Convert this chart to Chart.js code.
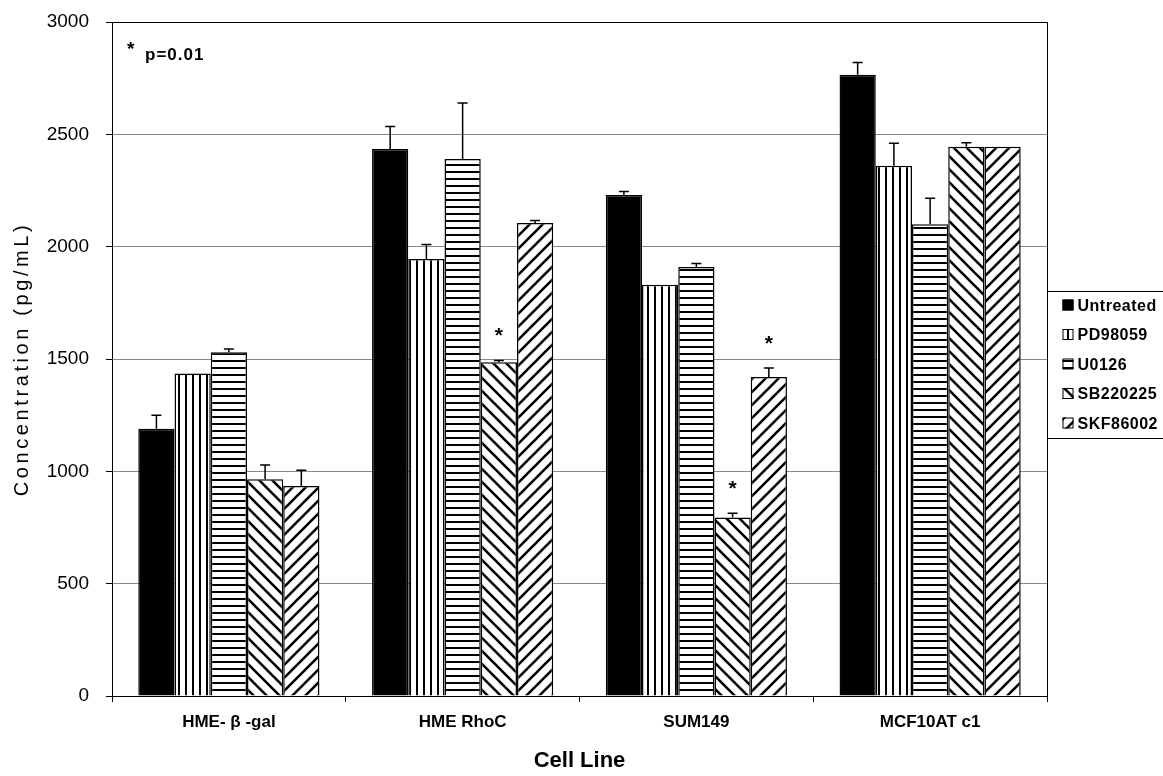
<!DOCTYPE html>
<html>
<head>
<meta charset="utf-8">
<script src="https://cdn.jsdelivr.net/npm/chart.js@4.4.1/dist/chart.umd.min.js"></script>
<style>
    html, body { margin: 0; padding: 0; background: #fff; }
    #wrap { width: 1163px; height: 776px; }
</style>
</head>
<body>
<div id="wrap"><canvas id="barChart" width="1163" height="776"></canvas></div>
<script>
// data
const cellLines = ["HME- \u03B2 -gal", "HME RhoC", "SUM149", "MCF10AT c1"];
const seriesNames = ["Untreated", "PD98059", "U0126", "SB220225", "SKF86002"];

const untreated = [1190, 2435, 2230, 2765];
const untreatedErr = [60, 100, 15, 55];
const pd98059 = [1435, 1945, 1830, 2360];
const pd98059Err = [0, 65, 0, 100];
const u0126 = [1530, 2390, 1910, 2100];
const u0126Err = [15, 250, 15, 115];
const sb220225 = [965, 1485, 795, 2445];
const sb220225Err = [63, 8, 18, 18];
const skf86002 = [935, 2105, 1420, 2445];
const skf86002Err = [70, 12, 40, 0];

// [series index, category index] marked with *
const significant = [[3, 1], [3, 2], [4, 2]];

const yTicks = [0, 500, 1000, 1500, 2000, 2500, 3000];

let ChartCells = function () {
    const FONT = "'Liberation Sans', Arial, sans-serif";
    const NARROW = "'Liberation Sans Narrow', 'Liberation Sans', Arial, sans-serif";

    let makePattern = function (kind) {
        const c = document.createElement('canvas');
        const g = c.getContext('2d');
        if (kind === 'solid') return '#000';
        if (kind === 'vert') {
            c.width = 7; c.height = 7;
            g.fillStyle = '#fff'; g.fillRect(0, 0, 7, 7);
            g.fillStyle = '#000'; g.fillRect(3, 0, 2, 7);
        } else if (kind === 'horiz') {
            c.width = 7; c.height = 7;
            g.fillStyle = '#fff'; g.fillRect(0, 0, 7, 7);
            g.fillStyle = '#000'; g.fillRect(0, 3, 7, 2);
        } else {
            const s = 13;
            c.width = s; c.height = s;
            g.fillStyle = '#fff'; g.fillRect(0, 0, s, s);
            g.strokeStyle = '#000'; g.lineWidth = 2.6;
            g.beginPath();
            if (kind === 'back') {
                g.moveTo(-2, -2); g.lineTo(s + 2, s + 2);
                g.moveTo(-2, s - 2); g.lineTo(2, s + 2);
                g.moveTo(s - 2, -2); g.lineTo(s + 2, 2);
            } else {
                g.moveTo(-2, s + 2); g.lineTo(s + 2, -2);
                g.moveTo(-2, 2); g.lineTo(2, -2);
                g.moveTo(s - 2, s + 2); g.lineTo(s + 2, s - 2);
            }
            g.stroke();
        }
        return g.createPattern(c, 'repeat');
    };

    let errorBars = {
        id: 'errorBars',
        afterDatasetsDraw(chart) {
            const ctx = chart.ctx;
            const y = chart.scales.y;
            ctx.save();
            ctx.strokeStyle = '#000';
            ctx.lineWidth = 1.5;
            chart.data.datasets.forEach((ds, i) => {
                chart.getDatasetMeta(i).data.forEach((bar, j) => {
                    const err = ds.errors[j];
                    if (!err) return;
                    const top = y.getPixelForValue(ds.data[j] + err);
                    ctx.beginPath();
                    ctx.moveTo(bar.x, bar.y);
                    ctx.lineTo(bar.x, top);
                    ctx.moveTo(bar.x - 5, top);
                    ctx.lineTo(bar.x + 5, top);
                    ctx.stroke();
                });
            });
            // significance stars
            ctx.fillStyle = '#000';
            ctx.font = 'bold 21px ' + FONT;
            ctx.textAlign = 'center';
            ctx.textBaseline = 'middle';
            significant.forEach(([i, j]) => {
                const ds = chart.data.datasets[i];
                const bar = chart.getDatasetMeta(i).data[j];
                const top = y.getPixelForValue(ds.data[j] + ds.errors[j]);
                ctx.fillText('*', bar.x, top - 24);
            });
            ctx.restore();
        }
    };

    let frameAndLegend = {
        id: 'frameAndLegend',
        afterDraw(chart) {
            const ctx = chart.ctx;
            const area = chart.chartArea;
            ctx.save();
            ctx.strokeStyle = '#000';
            ctx.lineWidth = 1;
            ctx.beginPath();
            ctx.moveTo(area.right + 0.5, area.top);
            ctx.lineTo(area.right + 0.5, area.bottom);
            ctx.stroke();

            // y axis title, drawn here to get the spaced lettering
            ctx.fillStyle = '#000';
            ctx.save();
            ctx.translate(22, (area.top + area.bottom) / 2);
            ctx.rotate(-Math.PI / 2);
            ctx.textAlign = 'center';
            ctx.textBaseline = 'middle';
            ctx.font = '20px ' + FONT;
            ctx.letterSpacing = '3.6px';
            ctx.fillText('Concentration (pg/mL)', 0, 0);
            ctx.restore();

            // p value note
            ctx.textBaseline = 'middle';
            ctx.textAlign = 'left';
            ctx.font = 'bold 19px ' + FONT;
            ctx.fillText('*', area.left + 15, area.top + 28);
            ctx.font = 'bold 17px ' + FONT;
            ctx.letterSpacing = '1px';
            ctx.fillText('p=0.01', area.left + 33, area.top + 33);

            // legend box
            const lx = area.right + 0.5;
            const ly = area.top + 269.5;
            ctx.strokeRect(lx, ly, 140, 147);
            ctx.font = 'bold 16px ' + FONT;
            ctx.letterSpacing = '0.5px';
            chart.data.datasets.forEach((ds, i) => {
                const cy = ly + 14 + i * 29.5;
                ctx.fillStyle = ds.backgroundColor;
                ctx.fillRect(lx + 15, cy - 6, 11, 11);
                ctx.strokeRect(lx + 15.5, cy - 5.5, 10, 10);
                ctx.fillStyle = '#000';
                ctx.fillText(ds.label, lx + 30, cy + 1);
            });
            ctx.restore();
        }
    };

    let _ChartCells = function () {
        const values = [untreated, pd98059, u0126, sb220225, skf86002];
        const errors = [untreatedErr, pd98059Err, u0126Err, sb220225Err, skf86002Err];
        const fills = ['solid', 'vert', 'horiz', 'back', 'fwd'];

        const barData = {
            labels: cellLines,
            datasets: seriesNames.map((name, i) => ({
                label: name,
                data: values[i],
                errors: errors[i],
                backgroundColor: makePattern(fills[i]),
                borderColor: '#000',
                borderWidth: 1.5,
                barPercentage: 1,
                categoryPercentage: 0.775
            }))
        };

        const barOptions = {
            responsive: false,
            animation: false,
            devicePixelRatio: 1,
            layout: { padding: { top: 22, right: 116, bottom: 0, left: 0 } },
            plugins: { legend: { display: false }, tooltip: { enabled: false } },
            scales: {
                x: {
                    afterFit: (scale) => { scale.height = 80; },
                    grid: { offset: true, drawOnChartArea: false, tickLength: 6, tickColor: '#000' },
                    border: { color: '#000', width: 1 },
                    ticks: { color: '#000', padding: 10, font: { family: NARROW, size: 17, weight: 'bold' } },
                    title: {
                        display: true, text: 'Cell Line', color: '#000',
                        padding: { top: 0, bottom: 2 },
                        font: { family: FONT, size: 22, weight: 'bold' }
                    }
                },
                y: {
                    min: 0, max: 3000,
                    afterFit: (scale) => {
                        scale.width = 112;
                        scale.paddingTop = 0;
                        scale.paddingBottom = 0;
                    },
                    afterBuildTicks: (scale) => { scale.ticks = yTicks.map(v => ({ value: v })); },
                    grid: {
                        tickLength: 6, tickColor: '#000', lineWidth: 1,
                        color: (c) => c.tick && c.tick.value === 3000 ? '#000' : '#8a8a8a'
                    },
                    border: { color: '#000', width: 1 },
                    ticks: {
                        color: '#000', padding: 17, font: { family: FONT, size: 19 },
                        callback: (v) => String(v)
                    },
                    title: { display: false }
                }
            }
        };

        const ctx = document.getElementById('barChart').getContext('2d');
        new Chart(ctx, { type: 'bar', data: barData, options: barOptions, plugins: [errorBars, frameAndLegend] });
    };

    return {
        init: () => {
            _ChartCells();
        }
    };
}();

document.addEventListener('DOMContentLoaded', function () {
    ChartCells.init();
});
</script>
</body>
</html>
